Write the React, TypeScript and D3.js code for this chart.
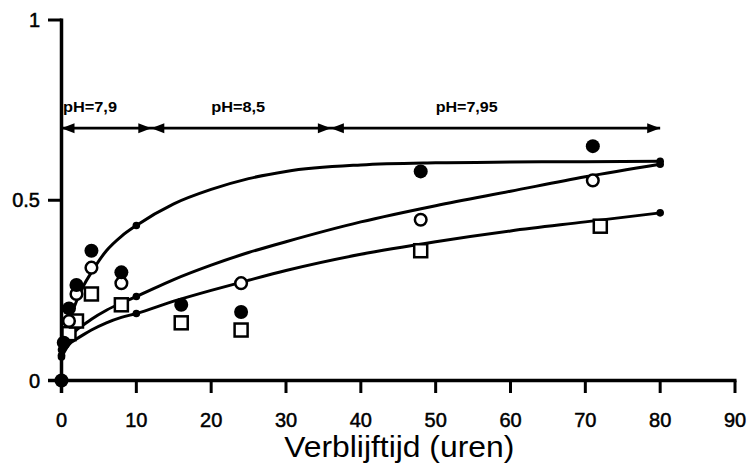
import React from "react";
import * as d3 from "d3";

// Model curves (x = hours, y = fraction)
const curveX = [0, 1, 2, 3, 4, 6, 8, 10, 15, 20, 25, 30, 40, 50, 60, 70, 80];
const curveTop = [0.07, 0.16, 0.22, 0.265, 0.3, 0.36, 0.4, 0.43, 0.49, 0.53, 0.56, 0.58, 0.598, 0.604, 0.606, 0.607, 0.608];
const curveMid = [0.085, 0.12, 0.14, 0.155, 0.17, 0.195, 0.215, 0.233, 0.28, 0.32, 0.355, 0.385, 0.44, 0.485, 0.525, 0.565, 0.6];
const curveBot = [0.065, 0.1, 0.115, 0.128, 0.14, 0.16, 0.175, 0.186, 0.22, 0.25, 0.278, 0.305, 0.35, 0.385, 0.415, 0.44, 0.465];
const markerX = [0, 10, 80];

// Measured points
const filledX = [0, 0.3, 1, 2, 4, 8, 16, 24, 48, 71];
const filledY = [0, 0.105, 0.2, 0.265, 0.36, 0.3, 0.21, 0.19, 0.58, 0.65];
const openX = [1, 2, 4, 8, 24, 48, 71];
const openY = [0.165, 0.24, 0.313, 0.27, 0.27, 0.446, 0.555];
const squareX = [1, 2, 4, 8, 16, 24, 48, 72];
const squareY = [0.13, 0.165, 0.24, 0.21, 0.16, 0.14, 0.36, 0.428];

// pH periods
const phBounds = [0, 12, 36, 80];
const phLabels = ["pH=7,9", "pH=8,5", "pH=7,95"];
const phLabelX = [0.2, 20, 50];
const arrowLevel = 0.7;

const xTicks = [0, 10, 20, 30, 40, 50, 60, 70, 80, 90];
const yTicks = [0, 0.5, 1];
const yTickLabels = ["0", "0.5", "1"];

export default function App() {
  const x = d3.scaleLinear().domain([0, 90]).range([61.5, 735]);
  const y = d3.scaleLinear().domain([0, 1]).range([380.5, 20]);
  const line = d3
    .line<[number, number]>()
    .x((d) => x(d[0]))
    .y((d) => y(d[1]))
    .curve(d3.curveMonotoneX);
  const curves = [curveTop, curveMid, curveBot];
  const valueAt = (arr: number[], v: number) => arr[curveX.indexOf(v)];
  const font = "'Liberation Sans', Arial, sans-serif";
  const ay = y(arrowLevel);
  const headL = 13;
  const headH = 5;

  const arrowHeads: React.ReactElement[] = [];
  phBounds.slice(0, -1).forEach((b, i) => {
    const x0 = x(b);
    const x1 = x(phBounds[i + 1]);
    arrowHeads.push(
      <path key={"l" + i} d={`M${x0},${ay} L${x0 + headL},${ay - headH} L${x0 + headL},${ay + headH} Z`} fill="#000" />
    );
    arrowHeads.push(
      <path key={"r" + i} d={`M${x1},${ay} L${x1 - headL},${ay - headH} L${x1 - headL},${ay + headH} Z`} fill="#000" />
    );
  });

  return (
    <svg width={749} height={464} style={{ position: "absolute", left: 0, top: 0, background: "#fff" }}>
      <rect width={749} height={464} fill="#fff" />
      {/* axes */}
      <line x1={x(0)} x2={x(0)} y1={y(1) - 1.5} y2={393} stroke="#000" strokeWidth={3.5} />
      <line x1={48} x2={x(90) + 1.5} y1={y(0)} y2={y(0)} stroke="#000" strokeWidth={3.5} />
      {yTicks.map((t, i) => (
        <g key={"yt" + i}>
          <line x1={48} x2={x(0)} y1={y(t)} y2={y(t)} stroke="#000" strokeWidth={3} />
          <text x={40} y={y(t) + 7} textAnchor="end" fontFamily={font} fontSize={20} stroke="#000" strokeWidth={0.5}>
            {yTickLabels[i]}
          </text>
        </g>
      ))}
      {xTicks.map((t) => (
        <g key={"xt" + t}>
          <line x1={x(t)} x2={x(t)} y1={y(0)} y2={393} stroke="#000" strokeWidth={3} />
          <text x={x(t)} y={426.5} textAnchor="middle" fontFamily={font} fontSize={20} stroke="#000" strokeWidth={0.5}>
            {t}
          </text>
        </g>
      ))}
      <text x={(x(0) + x(90)) / 2 + 1} y={457} textAnchor="middle" fontFamily={font} fontSize={30} textLength={230} lengthAdjust="spacingAndGlyphs">
        Verblijftijd (uren)
      </text>

      {/* pH arrows */}
      <line x1={x(0)} x2={x(80)} y1={ay} y2={ay} stroke="#000" strokeWidth={2.8} />
      {arrowHeads}
      {phLabels.map((l, i) => (
        <text
          key={l}
          x={x(phLabelX[i])}
          y={111.5}
          fontFamily={font}
          fontSize={14}
          fontWeight="bold"
          textLength={i === 2 ? 62 : 54}
          lengthAdjust="spacingAndGlyphs"
        >
          {l}
        </text>
      ))}

      {/* model curves */}
      {curves.map((c, i) => (
        <g key={"c" + i}>
          <path d={line(curveX.map((v, j) => [v, c[j]]))!} fill="none" stroke="#000" strokeWidth={3} />
          {markerX.map((m) => (
            <circle key={m} cx={x(m)} cy={y(valueAt(c, m))} r={3.8} fill="#000" />
          ))}
        </g>
      ))}

      {/* measured */}
      {squareX.map((v, i) => (
        <rect key={"s" + i} x={x(v) - 6.5} y={y(squareY[i]) - 6.5} width={13} height={13} fill="#fff" stroke="#000" strokeWidth={2.5} />
      ))}
      {openX.map((v, i) => (
        <circle key={"o" + i} cx={x(v)} cy={y(openY[i])} r={5.8} fill="#fff" stroke="#000" strokeWidth={2.5} />
      ))}
      {filledX.map((v, i) => (
        <circle key={"f" + i} cx={x(v)} cy={y(filledY[i])} r={7} fill="#000" />
      ))}
    </svg>
  );
}
